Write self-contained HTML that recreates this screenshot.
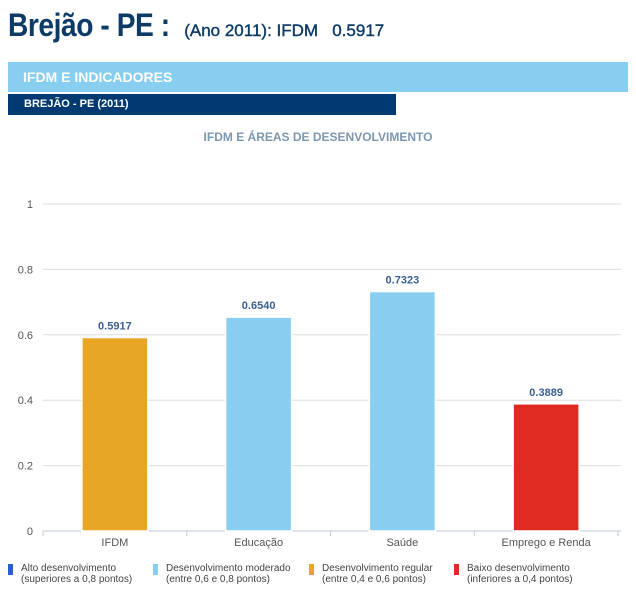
<!DOCTYPE html>
<html><head><meta charset="utf-8"><style>
body{margin:0;width:636px;height:611px;background:#fff;font-family:"Liberation Sans",sans-serif;overflow:hidden;position:relative}
.t{position:absolute;left:8px;top:7px;color:#0d3b66;white-space:nowrap}
.t b{font-size:32px;font-weight:bold;letter-spacing:-0.5px;display:inline-block;transform:scaleX(0.88);transform-origin:left;margin-right:-12px}
.t span{font-size:17px;font-weight:normal;display:inline-block;-webkit-text-stroke:0.4px #0d3b66}
.h1{position:absolute;left:8px;top:62px;width:620px;height:30px;background:#87cef0;color:#fff;font-weight:bold;font-size:14px;line-height:30px;text-indent:15px}
.h2{position:absolute;left:8px;top:94px;width:388px;height:21px;background:#003a70;color:#fff;font-weight:bold;font-size:11px;line-height:21px;text-indent:16px}
.ct{position:absolute;left:0;width:636px;top:130px;text-align:center;color:#7c97b0;font-weight:bold;font-size:12px}
.lg{position:absolute;top:563px;font-size:10px;color:#444;line-height:11px}
.lg i{position:absolute;left:-13px;top:1px;width:5px;height:11px}
</style></head><body>
<div class="t"><b>Brejão - PE :</b> <span>(Ano 2011): IFDM &nbsp; 0.5917</span></div>
<div class="h1">IFDM E INDICADORES</div>
<div class="h2">BREJÃO - PE (2011)</div>
<div class="ct">IFDM E ÁREAS DE DESENVOLVIMENTO</div>
<svg id="c" width="636" height="560" style="position:absolute;left:0;top:0"></svg>
<div class="lg" style="left:21px"><i style="background:#2c5fc9"></i>Alto desenvolvimento<br>(superiores a 0,8 pontos)</div>
<div class="lg" style="left:166px"><i style="background:#87cef0"></i>Desenvolvimento moderado<br>(entre 0,6 e 0,8 pontos)</div>
<div class="lg" style="left:322px"><i style="background:#e8a627"></i>Desenvolvimento regular<br>(entre 0,4 e 0,6 pontos)</div>
<div class="lg" style="left:467px"><i style="background:#de2a21"></i>Baixo desenvolvimento<br>(inferiores a 0,4 pontos)</div>
<script>
const categories=["IFDM","Educação","Saúde","Emprego e Renda"];
const values=[0.5917,0.6540,0.7323,0.3889];
const labels=["0.5917","0.6540","0.7323","0.3889"];
const yTicks=[0,0.2,0.4,0.6,0.8,1];
const yTickLabels=["0","0.2","0.4","0.6","0.8","1"];
const svg=document.getElementById('c');const NS='http://www.w3.org/2000/svg';
const x0=43,x1=618,yb=531,yt=204;
const band=(x1-x0)/categories.length;
const y=v=>yb-(yb-yt)*v;
const xc=i=>x0+band*(i+0.5);
function col(v){return v>0.8?'#2c5fc9':v>=0.6?'#87cef0':v>=0.4?'#e8a627':'#de2a21';}
function mk(t,a){const e=document.createElementNS(NS,t);for(const k in a)e.setAttribute(k,a[k]);svg.appendChild(e);return e;}
yTicks.forEach((v,i)=>{
 const l=mk('line',{x1:x0,x2:x1+3,y1:y(v),y2:y(v),stroke:v===0?'#c0c8d8':'#ddd','stroke-width':1});
 
 
 const t=mk('text',{x:33,y:y(v)+4,'text-anchor':'end','font-size':11,fill:'#555','font-family':'Liberation Sans'});
 t.textContent=yTickLabels[i];
 
 
});
for(let i=0;i<=categories.length;i++){
 const tk=mk('line',{x1:x0+band*i,x2:x0+band*i,y1:yb,y2:yb+5,stroke:'#c0c8d8'});
 
 
}
categories.forEach((c,i)=>{
 const w=66,v=values[i];
 const r=mk('rect',{x:xc(i)-w/2,y:y(v),width:w,height:yb-y(v),fill:col(v),stroke:'#fff','stroke-width':1.5});
 
 
 const vl=mk('text',{x:xc(i),y:y(v)-8,'text-anchor':'middle','font-size':11,'font-weight':'bold',fill:'#3a5f8f','font-family':'Liberation Sans'});
 vl.textContent=labels[i];
 
 
 const xl=mk('text',{x:xc(i),y:546,'text-anchor':'middle','font-size':11,fill:'#555','font-family':'Liberation Sans'});
 xl.textContent=c;
 
 
});
</script>
</body></html>
